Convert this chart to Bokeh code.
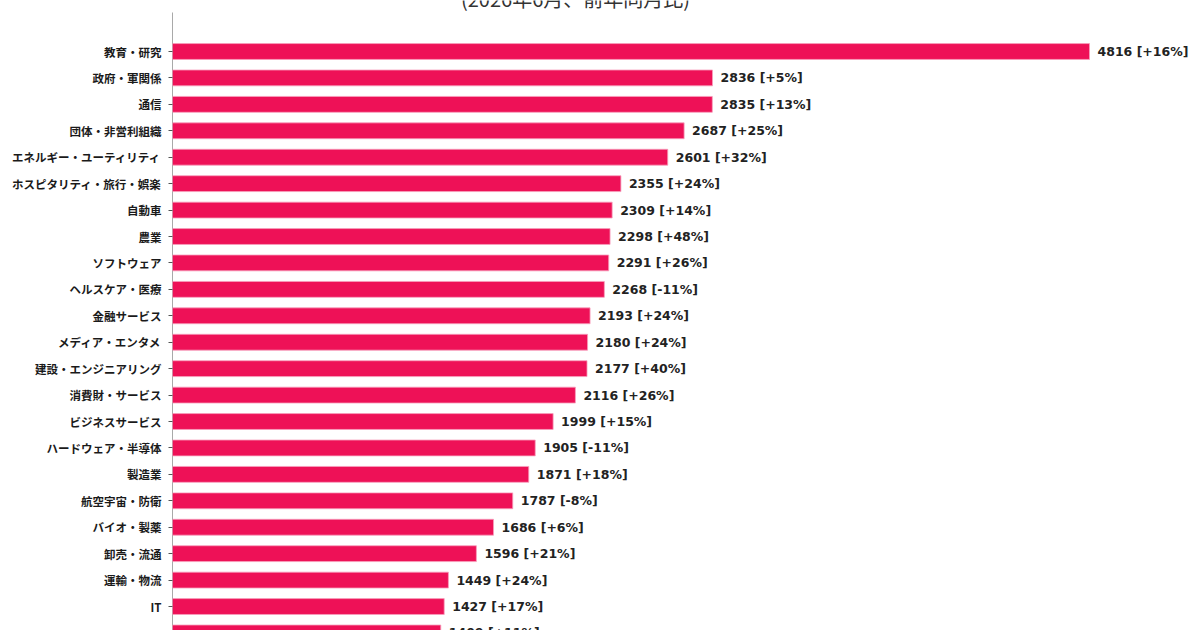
from bokeh.plotting import figure
from bokeh.models import ColumnDataSource, Range1d, FixedTicker
from bokeh.core.properties import value
from bokeh.embed import file_html
from bokeh.resources import INLINE

# Job postings by industry, June 2026, with year-over-year change (%)
industries = [
    "教育・研究", "政府・軍関係", "通信", "団体・非営利組織",
    "エネルギー・ユーティリティ", "ホスピタリティ・旅行・娯楽", "自動車", "農業",
    "ソフトウェア", "ヘルスケア・医療", "金融サービス", "メディア・エンタメ",
    "建設・エンジニアリング", "消費財・サービス", "ビジネスサービス",
    "ハードウェア・半導体", "製造業", "航空宇宙・防衛", "バイオ・製薬",
    "卸売・流通", "運輸・物流", "IT", "不動産・賃貸",
]
postings = [4816, 2836, 2835, 2687, 2601, 2355, 2309, 2298, 2291, 2268, 2193,
            2180, 2177, 2116, 1999, 1905, 1871, 1787, 1686, 1596, 1449, 1427, 1409]
yoy_pct = [16, 5, 13, 25, 32, 24, 14, 48, 26, -11, 24, 24, 40, 26, 15, -11,
           18, -8, 6, 21, 24, 17, 11]
subtitle = "(2026年6月、前年同月比)"

rows = list(range(len(industries)))
labels = [f"{n} [{'+' if c >= 0 else ''}{c}%]" for n, c in zip(postings, yoy_pct)]

src = ColumnDataSource(dict(row=rows, n=postings, label=labels))

# layout in pixels
W, H = 1198, 630
LEFT = 172
px_per_unit = 917.0 / 4816
x_end = (W - LEFT) / px_per_unit
row_px = 26.43
first_px = 51.0


def row_at(py):
    """Row coordinate that sits at pixel height py from the top."""
    return (py - first_px) / row_px


def x_at(px):
    return (px - LEFT) / px_per_unit


p = figure(width=W, height=H, output_backend="svg", toolbar_location=None,
           x_range=Range1d(0, x_end), y_range=Range1d(row_at(H), row_at(0)),
           x_axis_location=None, min_border_left=LEFT, min_border_top=0,
           min_border_right=0, min_border_bottom=0)
p.outline_line_color = None
p.grid.visible = False
p.background_fill_color = "white"
p.border_fill_color = "white"

# left spine, starting a little below the top edge
p.segment(x0=[0], y0=[row_at(12)], x1=[0], y1=[row_at(H + 5)],
          line_color="#555555", line_width=1)

p.hbar(y="row", right="n", left=0, height=0.6, source=src,
       fill_color="#EE1157", line_color="#F7A0BC", line_width=0.8)

p.text(x="n", y="row", text="label", source=src, x_offset=8,
       text_font=value("DejaVu Sans"), text_font_style="bold",
       text_font_size="12.5px", text_color="#222222",
       text_baseline="middle", text_align="left")

# subtitle (upper part falls above the top edge)
p.text(x=[x_at(575)], y=[row_at(-2.5)], text=[subtitle],
       text_font=value("Noto Sans CJK JP"), text_font_size="20px",
       text_color="#333333", text_align="center", text_baseline="middle")

ax = p.yaxis[0]
ax.ticker = FixedTicker(ticks=rows)
ax.major_label_overrides = {i: name for i, name in enumerate(industries)}
ax.major_label_text_font = "Noto Sans CJK JP"
ax.major_label_text_font_style = "bold"
ax.major_label_text_font_size = "11.5px"
ax.major_label_text_color = "#1a1a1a"
ax.major_label_standoff = 7
ax.axis_line_color = None
ax.major_tick_line_color = "#555555"
ax.major_tick_out = 4
ax.major_tick_in = 0
ax.minor_tick_line_color = None

open("out.html", "w").write(file_html(p, INLINE))
